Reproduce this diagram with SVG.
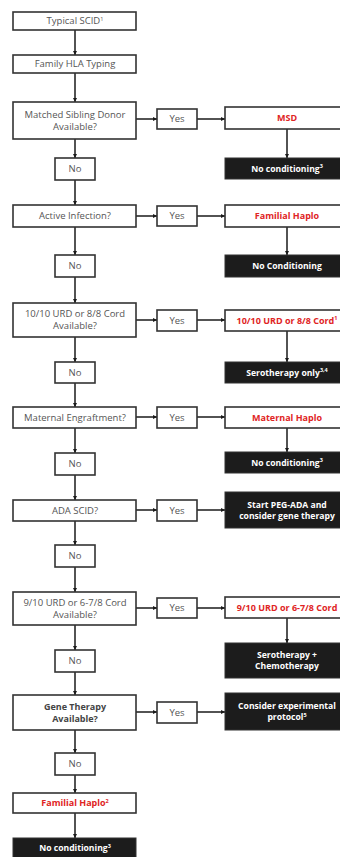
<svg xmlns="http://www.w3.org/2000/svg" width="340" height="857" viewBox="0 0 340 857">
<defs>
<marker id="ah" viewBox="0 0 6 6" refX="6" refY="3" markerWidth="4" markerHeight="4" orient="auto" markerUnits="userSpaceOnUse">
<path d="M0,0 L6,3 L0,6 z" fill="#1a1a1a"/>
</marker>
<style>
.b{fill:#fff;stroke:#333;stroke-width:1.6}
.k{fill:#1c1c1c;stroke:#333;stroke-width:1}
.t{font-family:"Open Sans","Liberation Sans",sans-serif;font-size:9.5px;fill:#555;text-anchor:middle}
.tb{font-weight:bold;fill:#444;font-size:9px}
.r{font-family:"Open Sans","Liberation Sans",sans-serif;font-size:9px;fill:#e02424;font-weight:bold;text-anchor:middle}
.w{font-family:"Open Sans","Liberation Sans",sans-serif;font-size:8.6px;fill:#fff;font-weight:bold;text-anchor:middle}
.s{font-size:5.5px}
.c line{stroke:#1a1a1a;stroke-width:1.5;marker-end:url(#ah)}
</style>
</defs>
<rect width="340" height="857" fill="#fff"/>
<g class="c" id="connectors">
<line x1="75" y1="30" x2="75" y2="55"/>
<line x1="75" y1="73" x2="75" y2="102"/>
<line x1="75" y1="139" x2="75" y2="158"/>
<line x1="75" y1="180" x2="75" y2="205"/>
<line x1="75" y1="227" x2="75" y2="255"/>
<line x1="75" y1="277" x2="75" y2="303"/>
<line x1="75" y1="337" x2="75" y2="362"/>
<line x1="75" y1="383" x2="75" y2="407"/>
<line x1="75" y1="428" x2="75" y2="453"/>
<line x1="75" y1="475" x2="75" y2="500"/>
<line x1="75" y1="521" x2="75" y2="545"/>
<line x1="75" y1="567" x2="75" y2="592"/>
<line x1="75" y1="625" x2="75" y2="650"/>
<line x1="75" y1="672" x2="75" y2="695"/>
<line x1="75" y1="730" x2="75" y2="753"/>
<line x1="75" y1="775" x2="75" y2="793"/>
<line x1="75" y1="813" x2="75" y2="838"/>
<line x1="136" y1="119" x2="157" y2="119"/>
<line x1="197" y1="119" x2="225" y2="119"/>
<line x1="136" y1="216" x2="157" y2="216"/>
<line x1="197" y1="216" x2="225" y2="216"/>
<line x1="136" y1="320" x2="157" y2="320"/>
<line x1="197" y1="320" x2="225" y2="320"/>
<line x1="136" y1="417" x2="157" y2="417"/>
<line x1="197" y1="417" x2="225" y2="417"/>
<line x1="136" y1="510" x2="157" y2="510"/>
<line x1="197" y1="510" x2="225" y2="510"/>
<line x1="136" y1="608" x2="157" y2="608"/>
<line x1="197" y1="608" x2="225" y2="608"/>
<line x1="136" y1="712" x2="157" y2="712"/>
<line x1="197" y1="712" x2="225" y2="712"/>
<line x1="287" y1="129" x2="287" y2="158"/>
<line x1="287" y1="227" x2="287" y2="255"/>
<line x1="287" y1="331" x2="287" y2="362"/>
<line x1="287" y1="428" x2="287" y2="452"/>
<line x1="287" y1="618" x2="287" y2="643"/>
</g>
<g id="typical"><rect class="b" x="13" y="12" width="123" height="18"/><text class="t" x="75" y="24.3">Typical SCID<tspan class="s" dy="-3.5">1</tspan></text></g>
<g id="hla"><rect class="b" x="13" y="55" width="123" height="18"/><text class="t" x="75" y="67.3">Family HLA Typing</text></g>
<g id="msdq"><rect class="b" x="13" y="102" width="123" height="37"/><text class="t" x="75" y="117.8">Matched Sibling Donor</text><text class="t" x="75" y="129.8">Available?</text></g>
<g id="no1"><rect class="b" x="55" y="158" width="40" height="22"/><text class="t" x="75" y="172.3">No</text></g>
<g id="infq"><rect class="b" x="13" y="205" width="123" height="22"/><text class="t" x="75" y="219.3">Active Infection?</text></g>
<g id="no2"><rect class="b" x="55" y="255" width="40" height="22"/><text class="t" x="75" y="269.3">No</text></g>
<g id="urdq"><rect class="b" x="13" y="303" width="123" height="34"/><text class="t" x="75" y="317.3">10/10 URD or 8/8 Cord</text><text class="t" x="75" y="329.3">Available?</text></g>
<g id="no3"><rect class="b" x="55" y="362" width="40" height="21"/><text class="t" x="75" y="375.8">No</text></g>
<g id="matq"><rect class="b" x="13" y="407" width="123" height="21"/><text class="t" x="75" y="420.8">Maternal Engraftment?</text></g>
<g id="no4"><rect class="b" x="55" y="453" width="40" height="22"/><text class="t" x="75" y="467.3">No</text></g>
<g id="adaq"><rect class="b" x="13" y="500" width="123" height="21"/><text class="t" x="75" y="513.8">ADA SCID?</text></g>
<g id="no5"><rect class="b" x="55" y="545" width="40" height="22"/><text class="t" x="75" y="559.3">No</text></g>
<g id="urd9q"><rect class="b" x="13" y="592" width="123" height="33"/><text class="t" x="75" y="605.8">9/10 URD or 6-7/8 Cord</text><text class="t" x="75" y="617.8">Available?</text></g>
<g id="no6"><rect class="b" x="55" y="650" width="40" height="22"/><text class="t" x="75" y="664.3">No</text></g>
<g id="geneq"><rect class="b" x="13" y="695" width="123" height="35"/><text class="t tb" x="75" y="709.8">Gene Therapy</text><text class="t tb" x="75" y="721.8">Available?</text></g>
<g id="no7"><rect class="b" x="55" y="753" width="40" height="22"/><text class="t" x="75" y="767.3">No</text></g>
<g id="famhaplo2"><rect class="b" x="13" y="793" width="123" height="20"/><text class="r" x="75" y="806.2">Familial Haplo<tspan class="s" dy="-3.5">2</tspan></text></g>
<g id="nocond-bottom"><rect class="k" x="13" y="838" width="123" height="22"/><text class="w" x="75" y="851">No conditioning<tspan class="s" dy="-3.5">3</tspan></text></g>
<g id="yes1"><rect class="b" x="157" y="109" width="40" height="20"/><text class="t" x="177" y="122.3">Yes</text></g>
<g id="yes2"><rect class="b" x="157" y="206" width="40" height="20"/><text class="t" x="177" y="219.3">Yes</text></g>
<g id="yes3"><rect class="b" x="157" y="310" width="40" height="21"/><text class="t" x="177" y="323.8">Yes</text></g>
<g id="yes4"><rect class="b" x="157" y="407" width="40" height="21"/><text class="t" x="177" y="420.8">Yes</text></g>
<g id="yes5"><rect class="b" x="157" y="500" width="40" height="21"/><text class="t" x="177" y="513.8">Yes</text></g>
<g id="yes6"><rect class="b" x="157" y="598" width="40" height="20"/><text class="t" x="177" y="611.3">Yes</text></g>
<g id="yes7"><rect class="b" x="157" y="702" width="40" height="21"/><text class="t" x="177" y="715.8">Yes</text></g>
<g id="msd"><rect class="b" x="225" y="107" width="124" height="22"/><text class="r" x="287" y="121.1">MSD</text></g>
<g id="nocond1"><rect class="k" x="225" y="158" width="124" height="21"/><text class="w" x="287" y="171.5">No conditioning<tspan class="s" dy="-3.5">3</tspan></text></g>
<g id="famhaplo"><rect class="b" x="225" y="205" width="124" height="22"/><text class="r" x="287" y="219.1">Familial Haplo</text></g>
<g id="nocond2"><rect class="k" x="225" y="255" width="124" height="22"/><text class="w" x="287" y="269">No Conditioning</text></g>
<g id="urd"><rect class="b" x="225" y="310" width="124" height="21"/><text class="r" x="287" y="323.6">10/10 URD or 8/8 Cord<tspan class="s" dy="-3.5">1</tspan></text></g>
<g id="sero"><rect class="k" x="225" y="362" width="124" height="21"/><text class="w" x="287" y="375.5">Serotherapy only<tspan class="s" dy="-3.5">3,4</tspan></text></g>
<g id="mathaplo"><rect class="b" x="225" y="407" width="124" height="21"/><text class="r" x="287" y="420.6">Maternal Haplo</text></g>
<g id="nocond3"><rect class="k" x="225" y="452" width="124" height="21"/><text class="w" x="287" y="465.5">No conditioning<tspan class="s" dy="-3.5">3</tspan></text></g>
<g id="pegada"><rect class="k" x="225" y="492" width="124" height="36"/><text class="w" x="287" y="507.5">Start PEG-ADA and</text><text class="w" x="287" y="518.5">consider gene therapy</text></g>
<g id="urd9"><rect class="b" x="225" y="597" width="124" height="21"/><text class="r" x="287" y="610.6">9/10 URD or 6-7/8 Cord</text></g>
<g id="serochemo"><rect class="k" x="225" y="643" width="124" height="35"/><text class="w" x="287" y="658">Serotherapy +</text><text class="w" x="287" y="669">Chemotherapy</text></g>
<g id="experimental"><rect class="k" x="225" y="693" width="124" height="37"/><text class="w" x="287" y="709">Consider experimental</text><text class="w" x="287" y="720">protocol<tspan class="s" dy="-3.5">5</tspan></text></g>
</svg>
